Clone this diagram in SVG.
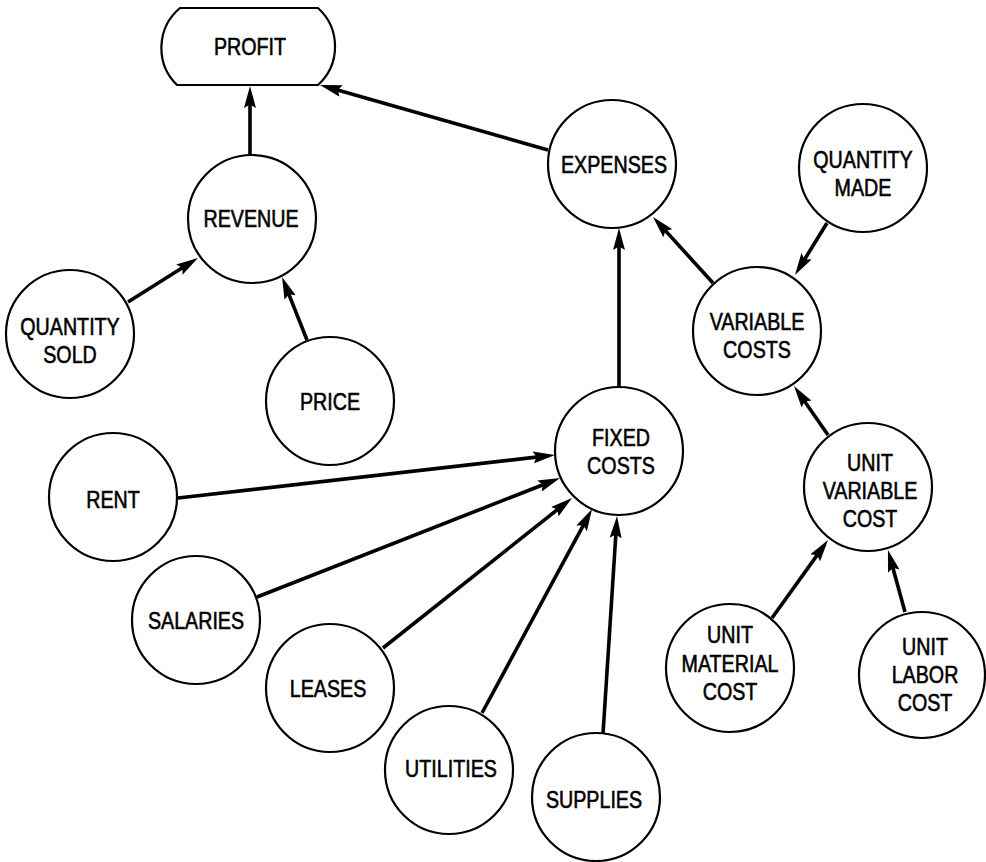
<svg xmlns="http://www.w3.org/2000/svg" width="986" height="862" viewBox="0 0 986 862">
  <defs>
    <style>
      .node { fill: #fff; stroke: #000; stroke-width: 2.2; }
      .lbl { font-family: "Liberation Sans", Arial, sans-serif; font-size: 24px; fill: #000; stroke: #000; stroke-width: 0.6; text-anchor: middle; }
      .edge { fill: none; stroke: #000; stroke-width: 3.6; marker-end: url(#head); }
    </style>
    <marker id="head" markerUnits="userSpaceOnUse" markerWidth="22" markerHeight="12" refX="12" refY="6" orient="auto" viewBox="0 0 22 12">
      <path d="M0,0 L22,6 L0,12 L3.5,6 Z" fill="#000"/>
    </marker>
  </defs>

  <rect width="986" height="862" fill="#fff"/>

  <!-- connectors -->
  <g id="connectors">
    <path class="edge" d="M250,155 L250,96"/>
    <path class="edge" d="M548,150 L329.6,87.7"/>
    <path class="edge" d="M128,302 L189.5,263.3"/>
    <path class="edge" d="M307,340 L285.7,286.3"/>
    <path class="edge" d="M619,387 L619,238"/>
    <path class="edge" d="M713,283 L659.7,224.4"/>
    <path class="edge" d="M827,223 L800.2,266.5"/>
    <path class="edge" d="M828,435 L799.7,394.2"/>
    <path class="edge" d="M772,618 L822.2,548.1"/>
    <path class="edge" d="M905,612 L890.6,559.6"/>
    <path class="edge" d="M178,498 L545.1,456.1"/>
    <path class="edge" d="M257,597 L550.7,481.7"/>
    <path class="edge" d="M383,648 L564.2,504.2"/>
    <path class="edge" d="M482,713 L587.3,517.8"/>
    <path class="edge" d="M603,734 L616.4,526"/>
  </g>

  <!-- terminal node -->
  <g id="profit">
    <path class="node" d="M180,8 L318,8 A52,52 0 0 1 318,85 L177,85 A52,52 0 0 1 180,8 Z"/>
    <g transform="translate(250 0) scale(0.82 1)"><text class="lbl" x="0" y="55">PROFIT</text></g>
  </g>

  <g id="revenue">
    <circle class="node" cx="252" cy="219" r="64"/>
    <g transform="translate(251 0) scale(0.82 1)"><text class="lbl" x="0" y="227">REVENUE</text></g>
  </g>

  <g id="expenses">
    <circle class="node" cx="612" cy="164" r="64"/>
    <g transform="translate(614 0) scale(0.82 1)"><text class="lbl" x="0" y="173">EXPENSES</text></g>
  </g>

  <g id="quantity-made">
    <circle class="node" cx="863" cy="168" r="64"/>
    <g transform="translate(863 0) scale(0.82 1)">
      <text class="lbl" x="0" y="168">QUANTITY</text>
      <text class="lbl" x="0" y="196">MADE</text>
    </g>
  </g>

  <g id="variable-costs">
    <circle class="node" cx="757" cy="331" r="64"/>
    <g transform="translate(757 0) scale(0.82 1)">
      <text class="lbl" x="0" y="330">VARIABLE</text>
      <text class="lbl" x="0" y="358">COSTS</text>
    </g>
  </g>

  <g id="quantity-sold">
    <circle class="node" cx="70" cy="334" r="64"/>
    <g transform="translate(70 0) scale(0.82 1)">
      <text class="lbl" x="0" y="335">QUANTITY</text>
      <text class="lbl" x="0" y="363">SOLD</text>
    </g>
  </g>

  <g id="price">
    <circle class="node" cx="330" cy="401" r="64"/>
    <g transform="translate(330 0) scale(0.82 1)"><text class="lbl" x="0" y="410">PRICE</text></g>
  </g>

  <g id="fixed-costs">
    <circle class="node" cx="619" cy="451" r="64"/>
    <g transform="translate(621 0) scale(0.82 1)">
      <text class="lbl" x="0" y="446">FIXED</text>
      <text class="lbl" x="0" y="474">COSTS</text>
    </g>
  </g>

  <g id="rent">
    <circle class="node" cx="113" cy="497" r="64"/>
    <g transform="translate(113 0) scale(0.82 1)"><text class="lbl" x="0" y="508">RENT</text></g>
  </g>

  <g id="unit-variable-cost">
    <circle class="node" cx="868" cy="487" r="64"/>
    <g transform="translate(870 0) scale(0.82 1)">
      <text class="lbl" x="0" y="471">UNIT</text>
      <text class="lbl" x="0" y="499">VARIABLE</text>
      <text class="lbl" x="0" y="527">COST</text>
    </g>
  </g>

  <g id="salaries">
    <circle class="node" cx="196" cy="620" r="64"/>
    <g transform="translate(196 0) scale(0.82 1)"><text class="lbl" x="0" y="629">SALARIES</text></g>
  </g>

  <g id="leases">
    <circle class="node" cx="330" cy="688" r="64"/>
    <g transform="translate(328 0) scale(0.82 1)"><text class="lbl" x="0" y="697">LEASES</text></g>
  </g>

  <g id="utilities">
    <circle class="node" cx="449" cy="770" r="64"/>
    <g transform="translate(451 0) scale(0.82 1)"><text class="lbl" x="0" y="777">UTILITIES</text></g>
  </g>

  <g id="supplies">
    <circle class="node" cx="596" cy="797" r="64"/>
    <g transform="translate(594 0) scale(0.82 1)"><text class="lbl" x="0" y="808">SUPPLIES</text></g>
  </g>

  <g id="unit-material-cost">
    <circle class="node" cx="730" cy="668" r="64"/>
    <g transform="translate(730 0) scale(0.82 1)">
      <text class="lbl" x="0" y="643">UNIT</text>
      <text class="lbl" x="0" y="672">MATERIAL</text>
      <text class="lbl" x="0" y="700">COST</text>
    </g>
  </g>

  <g id="unit-labor-cost">
    <circle class="node" cx="922" cy="675" r="63"/>
    <g transform="translate(925 0) scale(0.82 1)">
      <text class="lbl" x="0" y="655">UNIT</text>
      <text class="lbl" x="0" y="683">LABOR</text>
      <text class="lbl" x="0" y="711">COST</text>
    </g>
  </g>
</svg>
